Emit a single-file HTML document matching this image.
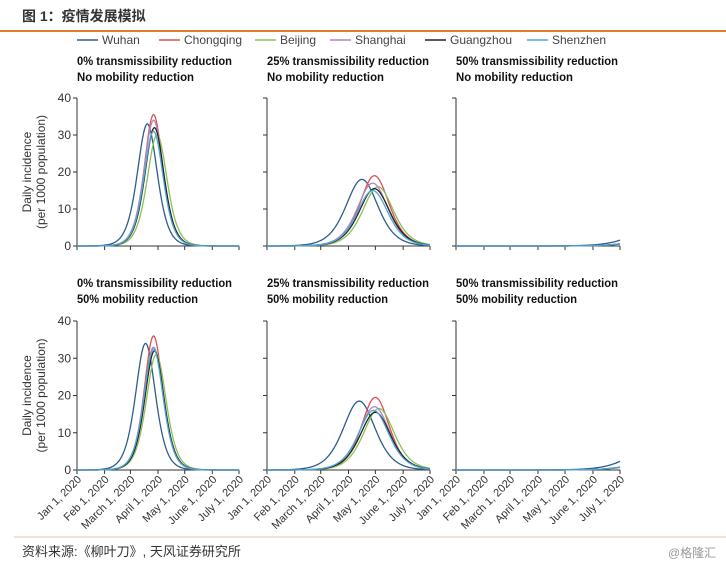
<!DOCTYPE html>
<html><head><meta charset="utf-8">
<style>
html,body{margin:0;padding:0;background:#fff;}
body{width:726px;height:569px;overflow:hidden;position:relative;font-family:"Liberation Sans","Noto Sans CJK SC",sans-serif;}
svg text{font-family:"Liberation Sans","Noto Sans CJK SC",sans-serif;}
</style></head>
<body>
<svg id="chart" width="726" height="569" xmlns="http://www.w3.org/2000/svg">
  <text x="22" y="21" font-size="14" font-weight="bold" fill="#333">图 1：疫情发展模拟</text>
  <line x1="0" y1="31" x2="726" y2="31" stroke="#e07b2a" stroke-width="2"/>
  <g id="legend"></g>
  <g id="panels"></g>
  <line x1="14" y1="537" x2="726" y2="537" stroke="#e0c9a0" stroke-width="1"/>
  <text x="22" y="556" font-size="13" fill="#333">资料来源:《柳叶刀》, 天风证券研究所</text>
  <text x="668" y="557" font-size="12" fill="#999">@格隆汇</text>
</svg>
<script>
const cities = ["Wuhan","Chongqing","Beijing","Shanghai","Guangzhou","Shenzhen"];
const cityColors = ["#2d5d8c","#d9534f","#8cc05a","#b486b8","#222222","#4aa9d9"];
const dateTicks = ["Jan 1, 2020","Feb 1, 2020","March 1, 2020","April 1, 2020","May 1, 2020","June 1, 2020","July 1, 2020"];
const dateTickDays = [0,31,60,91,121,152,182];
const yTicks = [0,10,20,30,40];
const panelTitles1 = ["0% transmissibility reduction","25% transmissibility reduction","50% transmissibility reduction","0% transmissibility reduction","25% transmissibility reduction","50% transmissibility reduction"];
const panelTitles2 = ["No mobility reduction","No mobility reduction","No mobility reduction","50% mobility reduction","50% mobility reduction","50% mobility reduction"];
// per panel, per city: peak day (days since Jan 1), peak height, spread (days)
const peakDays = [
  [79,86,90,86,87,86],
  [106,120,124,118,120,118],
  [235,255,258,255,256,255],
  [77,86,89,86,87,86],
  [103,121,125,120,121,119],
  [225,250,252,250,251,250]
];
const peakHeights = [
  [33,35.5,30,34,32,31],
  [18,19,16,17,15.5,15],
  [9,10,10,10,10,10],
  [34,36,31,33,32,32.5],
  [18.5,19.5,16.5,17,15.5,16],
  [8,10,10,10,10,10]
];
const spreads = [
  [15,14,15,14.5,14.5,14.5],
  [24,22,23,23,23,23],
  [35,35,35,35,35,35],
  [15,14,15,14.5,14.5,14.5],
  [24,21,23,23,23,23],
  [35,35,35,35,35,35]
];

const NS="http://www.w3.org/2000/svg";
function mk(tag,attrs,parent){const e=document.createElementNS(NS,tag);for(const k in attrs)e.setAttribute(k,attrs[k]);parent.appendChild(e);return e;}

const legend=document.getElementById('legend');
const legX=[77,159,255,330,425,527];
cities.forEach((c,i)=>{
  const g=mk('g',{},legend);
  
  
  mk('line',{x1:legX[i],y1:40,x2:legX[i]+21,y2:40,stroke:cityColors[i],'stroke-width':1.5},g);
  const t=mk('text',{x:legX[i]+25,y:44,'font-size':12,fill:'#444'},g);
  t.textContent=c;
});

const panelsG=document.getElementById('panels');
const colX=[[77,239],[267,430],[456,620]];
const rowY=[[98,246],[321,470]];
const titleY=[[65,81],[287,303]];
for(let p=0;p<6;p++){
  const col=p%3,row=Math.floor(p/3);
  const x0=colX[col][0],x1=colX[col][1],yT=rowY[row][0],yB=rowY[row][1];
  const xs=d=>x0+(x1-x0)*d/182;
  const ys=v=>yB-(yB-yT)*v/40;
  const g=mk('g',{},panelsG);
  
  
  const w1=(col===0?155:162);
  const t1=mk('text',{x:x0,y:titleY[row][0],'font-size':12,fill:'#111','font-weight':'bold',textLength:w1,lengthAdjust:'spacingAndGlyphs'},g);
  
  
  t1.textContent=panelTitles1[p];
  const t2=mk('text',{x:x0,y:titleY[row][1],'font-size':12,fill:'#111','font-weight':'bold',textLength:(row===0?117:121),lengthAdjust:'spacingAndGlyphs'},g);
  
  
  t2.textContent=panelTitles2[p];
  const ya=mk('line',{x1:x0,y1:yT,x2:x0,y2:yB,stroke:'#333','stroke-width':1},g);
  
  
  const xa=mk('line',{x1:x0,y1:yB,x2:x1,y2:yB,stroke:'#333','stroke-width':1},g);
  
  
  yTicks.forEach(v=>{
    mk('line',{x1:x0-4,y1:ys(v),x2:x0,y2:ys(v),stroke:'#333'},g);
    if(col===0){
      const tl=mk('text',{x:x0-6,y:ys(v)+4,'font-size':12,fill:'#333','text-anchor':'end'},g);
      
      
      tl.textContent=v;
    }
  });
  dateTickDays.forEach((d,i)=>{
    mk('line',{x1:xs(d),y1:yB,x2:xs(d),y2:yB+4,stroke:'#333'},g);
    if(row===1){
      const tx=xs(d)+5,ty=yB+10;
      const tl=mk('text',{x:tx,y:ty,'font-size':11,fill:'#333','text-anchor':'end',transform:`rotate(-45 ${tx} ${ty})`},g);
      
      
      tl.textContent=dateTicks[i];
    }
  });
  if(col===0){
    const cy=(yT+yB)/2;
    const a=mk('text',{x:31,y:cy,'font-size':12,fill:'#333','text-anchor':'middle',transform:`rotate(-90 31 ${cy})`},g);
    
    
    a.textContent='Daily incidence';
    const b=mk('text',{x:45,y:cy,'font-size':12,fill:'#333','text-anchor':'middle',transform:`rotate(-90 45 ${cy})`},g);
    
    
    b.textContent='(per 1000 population)';
  }
  cities.forEach((c,i)=>{
    const pk=peakDays[p][i],h=peakHeights[p][i],w=spreads[p][i];
    let d='';
    for(let day=0;day<=182;day+=1){
      const z=(day-pk)/w;const s=2/(Math.exp(z)+Math.exp(-z));
      const v=h*s*s;
      d+=(day?'L':'M')+xs(day).toFixed(2)+' '+ys(v).toFixed(2);
    }
    const path=mk('path',{d:d,fill:'none',stroke:cityColors[i],'stroke-width':1.3},g);
    
    
  });
}
</script>
</body></html>
